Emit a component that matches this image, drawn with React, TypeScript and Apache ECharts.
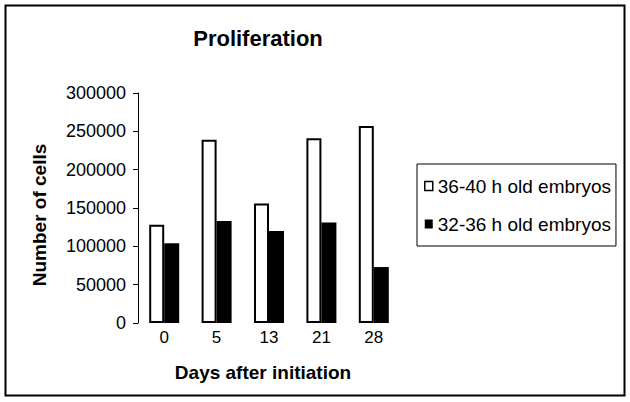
import React, { useEffect, useRef } from "react";
import * as echarts from "echarts";

const categories = ["0", "5", "13", "21", "28"];
const seriesNames = ["36-40 h old embryos", "32-36 h old embryos"];
const olderEmbryos = [128000, 239000, 156000, 241000, 257000];
const youngerEmbryos = [104000, 133000, 120000, 131000, 73000];
const yMin = 0;
const yMax = 300000;
const yInterval = 50000;

const FONT = '"Liberation Sans", Arial, sans-serif';

export default function App() {
  const ref = useRef<HTMLDivElement>(null);
  useEffect(() => {
    const chart = echarts.init(ref.current!, null, { renderer: "svg" });
    chart.setOption({
      animation: false,
      backgroundColor: "#fff",
      textStyle: { fontFamily: FONT },
      grid: { left: 138, right: 230, top: 93, bottom: 79 },
      graphic: [
        {
          type: "rect",
          shape: { x: 5.5, y: 5.5, width: 619, height: 390 },
          style: { fill: "none", stroke: "#000", lineWidth: 2 },
        },
        {
          type: "text",
          x: 258,
          y: 38,
          style: {
            text: "Proliferation",
            font: `bold 22px ${FONT}`,
            fill: "#000",
            textAlign: "center",
            textVerticalAlign: "middle",
          },
        },
        {
          type: "text",
          x: 263,
          y: 372,
          style: {
            text: "Days after initiation",
            font: `bold 19px ${FONT}`,
            fill: "#000",
            textAlign: "center",
            textVerticalAlign: "middle",
          },
        },
        {
          type: "text",
          x: 39,
          y: 215,
          rotation: Math.PI / 2,
          style: {
            text: "Number of cells",
            font: `bold 19px ${FONT}`,
            fill: "#000",
            textAlign: "center",
            textVerticalAlign: "middle",
          },
        },
      ],
      legend: {
        left: 417,
        top: 164,
        orient: "vertical",
        borderColor: "#000",
        borderWidth: 1,
        padding: [12, 5, 12, 7],
        itemGap: 18,
        itemWidth: 8,
        itemHeight: 9,
        icon: "rect",
        textStyle: { fontSize: 19, fontFamily: FONT, color: "#000", lineHeight: 20 },
        data: [
          { name: seriesNames[0], itemStyle: { color: "#fff", borderColor: "#000", borderWidth: 1.5 } },
          { name: seriesNames[1], itemStyle: { color: "#000", borderWidth: 0 } },
        ],
      },
      xAxis: {
        type: "category",
        data: categories,
        axisLine: { show: false },
        axisTick: { show: false },
        axisLabel: { color: "#000", fontSize: 17, margin: 6, fontFamily: FONT },
      },
      yAxis: {
        type: "value",
        min: yMin,
        max: yMax,
        interval: yInterval,
        axisLine: { show: true, lineStyle: { color: "#000", width: 1 } },
        axisTick: { show: true, length: 5, lineStyle: { color: "#000" } },
        splitLine: { show: false },
        axisLabel: {
          color: "#000",
          fontSize: 18,
          margin: 12,
          fontFamily: FONT,
          formatter: (v: number) => String(v),
        },
      },
      series: [
        {
          name: seriesNames[0],
          type: "bar",
          data: olderEmbryos,
          barWidth: 15,
          barGap: "0%",
          itemStyle: { color: "#fff", borderColor: "#000", borderWidth: 2 },
        },
        {
          name: seriesNames[1],
          type: "bar",
          data: youngerEmbryos,
          barWidth: 15,
          barGap: "0%",
          itemStyle: { color: "#000" },
        },
      ],
    });
    return () => chart.dispose();
  }, []);
  return (
    <div
      ref={ref}
      style={{ position: "fixed", left: 0, top: 0, width: 630, height: 402, background: "#fff" }}
    />
  );
}
